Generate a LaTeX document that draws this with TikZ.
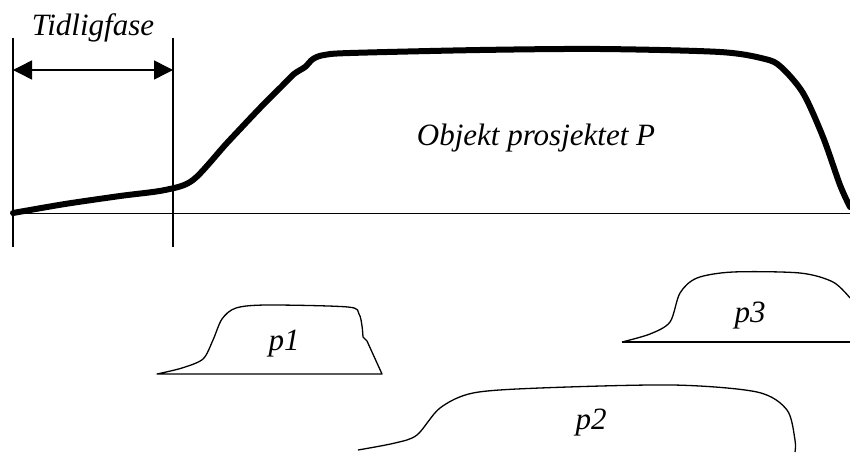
\documentclass[tikz,border=0pt]{standalone}
\usepackage{fontspec}
\setmainfont{Liberation Serif}
\usetikzlibrary{arrows.meta}

\begin{document}
\begin{tikzpicture}[x=1pt,y=-1pt,>={Triangle[length=19pt,width=19pt]}]
  \tikzstyle{lbl}=[font=\fontsize{31}{36}\itshape\selectfont,anchor=base,inner sep=0pt]
  \tikzstyle{thin}=[line width=1.3pt,line join=round]
  \useasboundingbox (0,0) rectangle (850,452);
  % phase markers and the arrow between them
  \coordinate (l1) at (13,38);  \coordinate (l2) at (13,247);
  \coordinate (r1) at (173,38); \coordinate (r2) at (173,247);
  \coordinate (al) at (13,70);  \coordinate (ar) at (173,70);
  \draw[thin] (l1) -- (l2);
  \draw[thin] (r1) -- (r2);
  \draw[line width=1.5pt,<->] (al) -- (ar);
  \node[lbl] (tid) at (93,36) {Tidligfase};
  % time axis
  \coordinate (o) at (13,213); \coordinate (e) at (850,213);
  \draw[line width=1pt] (o) -- (e);
  % main project curve
  \draw[line width=6pt,line join=round,line cap=round] plot[smooth,tension=0.5] coordinates
    {(13,213) (65,204) (120,196) (165,190) (193,180) (227,143) (260,108) (282,86)
     (294,74) (305,67) (313,59) (324,55) (350,53) (480,50) (600,49) (720,52) (765,59)
     (781,67) (803,93) (823,137) (840,185) (850,207)};
  \node[lbl] (obj) at (536,145) {Objekt prosjektet P};
  % sub project p1
  \draw[thin] plot[smooth,tension=0.5] coordinates
    {(157,374) (182,368) (203,359) (213,340) (222,319) (236,308) (267,305) (348,307)
     (359,314) (362,326) (363,337)} -- (367,341) -- (382,374) -- cycle;
  \node[lbl] (p1) at (284,350) {p1};
  % sub project p3
  \draw[thin] (622,342) -- (850,342);
  \draw[thin] plot[smooth,tension=0.5] coordinates
    {(622,342) (650,334) (670,322) (680,293) (697,278) (733,272) (800,273) (833,282) (850,298)};
  \node[lbl] (p3) at (750,322) {p3};
  % sub project p2
  \draw[thin] plot[smooth,tension=0.5] coordinates
    {(358,450) (395,443) (417,435) (440,408) (473,393) (540,388) (673,385) (757,392)
     (787,410) (795,440) (795,452)};
  \node[lbl] (p2) at (591,429) {p2};
\end{tikzpicture}
\end{document}
